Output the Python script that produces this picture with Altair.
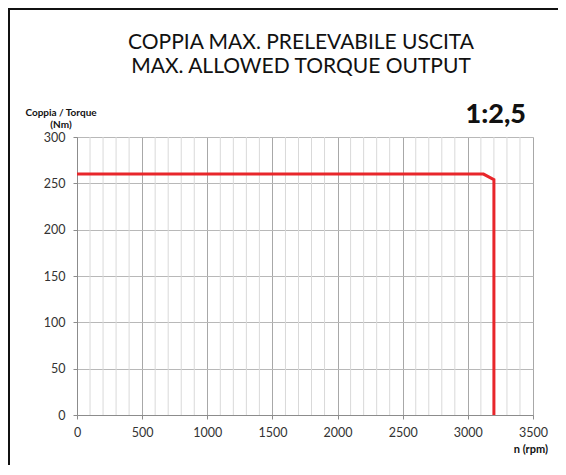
import altair as alt
import pandas as pd

# curve data
rpm = [0, 3120, 3200, 3200]
torque = [260, 260, 254, 0]

x_ticks = [0, 500, 1000, 1500, 2000, 2500, 3000, 3500]
y_ticks = [0, 50, 100, 150, 200, 250, 300]
minor_x = [v for v in range(100, 3500, 100) if v % 500 != 0]

title1 = "COPPIA MAX. PRELEVABILE USCITA"
title2 = "MAX. ALLOWED TORQUE OUTPUT"
ylab1 = "Coppia / Torque"
ylab2 = "(Nm)"
ratio = "1:2,5"
xlab = "n (rpm)"

FONT = "Lato"
W, H = 456, 278

df = pd.DataFrame({"rpm": rpm, "torque": torque, "order": range(len(rpm))})
minor_df = pd.DataFrame({"rpm": minor_x})

xscale = alt.Scale(domain=[0, 3500], nice=False)
yscale = alt.Scale(domain=[0, 300], nice=False)

xaxis = alt.Axis(values=x_ticks, title=None, grid=True, gridColor="#a8a8a8",
                 gridWidth=1, domainColor="#8c8c8c", tickColor="#8c8c8c",
                 tickSize=4, labelFont=FONT, labelFontSize=12.5, labelColor="#333333",
                 labelPadding=7, labelFlush=False, format="d")
yaxis = alt.Axis(values=y_ticks, title=None, grid=True, gridColor="#b8b8b8",
                 gridWidth=1, domainColor="#8c8c8c", tickColor="#8c8c8c",
                 tickSize=4, labelFont=FONT, labelFontSize=12.5, labelColor="#333333",
                 labelPadding=8, format="d")

minor = alt.Chart(minor_df).mark_rule(color="#d9d9d9", strokeWidth=1).encode(
    x=alt.X("rpm:Q", scale=xscale, axis=xaxis),
    y=alt.value(0), y2=alt.value(H),
)

line = alt.Chart(df).mark_line(color="#e8262b", strokeWidth=3, strokeJoin="miter").encode(
    x=alt.X("rpm:Q", scale=xscale, axis=xaxis),
    y=alt.Y("torque:Q", scale=yscale, axis=yaxis),
    order="order:O",
)

def txt(t, x, y, size, weight="normal", align="center"):
    return alt.Chart(pd.DataFrame({"t": [t]})).mark_text(
        font=FONT, fontSize=size, fontWeight=weight, align=align,
        baseline="middle", color="#111111"
    ).encode(text="t:N", x=alt.value(x), y=alt.value(y))

frame_left = alt.Chart(pd.DataFrame({"a": [0]})).mark_rule(color="#111111", strokeWidth=2).encode(
    x=alt.value(-68), y=alt.value(-128), y2=alt.value(H + 60))
frame_top = alt.Chart(pd.DataFrame({"a": [0]})).mark_rule(color="#111111", strokeWidth=2).encode(
    x=alt.value(-69), x2=alt.value(W + 40), y=alt.value(-128))

chart = alt.layer(
    minor, line,
    txt(title1, 224, -94, 21),
    txt(title2, 224, -70, 21),
    txt(ylab1, -16, -24, 10, "bold"),
    txt(ylab2, -16, -12, 10, "bold"),
    txt(ratio, 449, -22, 27, 900, "right"),
    txt(xlab, 471, 35 + H, 11, "bold", "right"),
    frame_left, frame_top,
).properties(
    width=W, height=H,
    padding={"left": 69, "top": 129, "right": 25, "bottom": 50},
    autosize=alt.AutoSizeParams(type="none"),
).configure_view(stroke=None).configure(background="white")

chart.save("out.html", embed_options={"renderer": "svg", "actions": False})
